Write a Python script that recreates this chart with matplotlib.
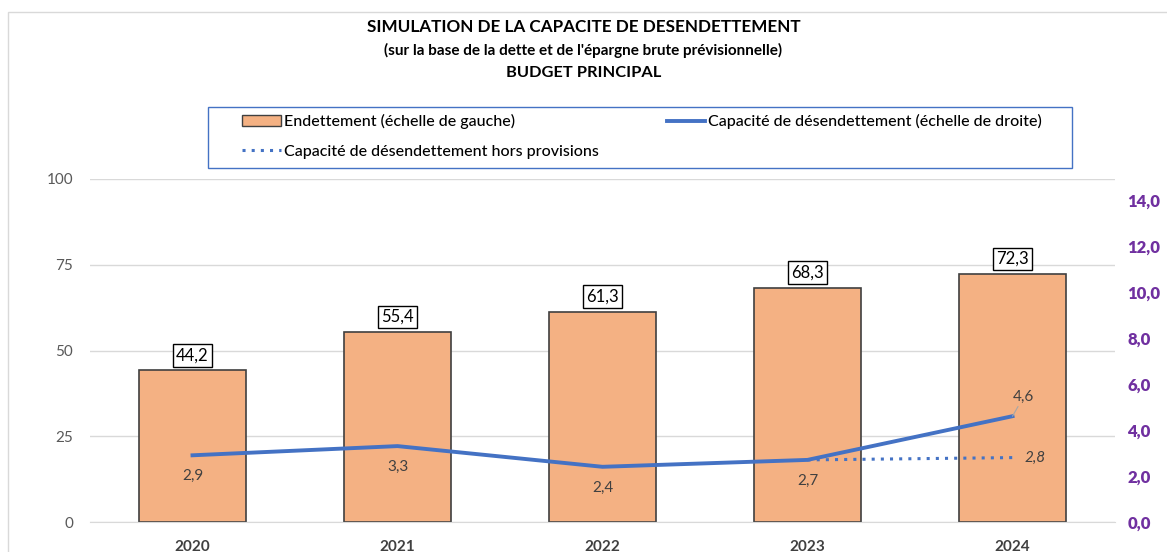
import matplotlib

matplotlib.use("Agg")

import matplotlib.pyplot as plt
from matplotlib.patches import Rectangle, Patch
from matplotlib.lines import Line2D

plt.rcParams["font.family"] = ["Lato", "DejaVu Sans"]

years = ["2020", "2021", "2022", "2023", "2024"]
endettement = [44.2, 55.4, 61.3, 68.3, 72.3]
capacite = [2.9, 3.3, 2.4, 2.7, 4.6]
hors_prov_years = ["2023", "2024"]
hors_prov = [2.7, 2.8]

W, H = 1167, 552
fig = plt.figure(figsize=(W / 100, H / 100), dpi=100)

# chart-area border (cropped Excel chart)
fig.patches.append(Rectangle((8 / W, -0.1), 1.2, 1 - 12 / H + 0.1, transform=fig.transFigure,
                             fill=False, edgecolor="#d9d9d9", linewidth=1))

ax = fig.add_axes([90 / W, 1 - 522 / H, (1115 - 90) / W, (522 - 179) / H])
ax2 = ax.twinx()

x = list(range(len(years)))
bars = ax.bar(x, endettement, width=0.52, color="#F4B183", edgecolor="#404040", linewidth=1.2, zorder=2)
ax.set_ylim(0, 100)
ax.set_xlim(-0.5, len(years) - 0.5)
ax.set_yticks([0, 25, 50, 75, 100])
ax.set_xticks(x)
ax.set_xticklabels(years, fontsize=11, fontweight="bold", color="#404040")
ax.tick_params(axis="y", length=0, labelsize=11, labelcolor="#595959", pad=12)
ax.tick_params(axis="x", length=0, pad=13)
ax.grid(True, axis="y", color="#d9d9d9", linewidth=1, zorder=0)
ax.set_axisbelow(True)
for s in ax.spines.values():
    s.set_visible(False)
ax.spines["bottom"].set_visible(True)
ax.spines["bottom"].set_color("#d9d9d9")

for xi, v in zip(x, endettement):
    ax.annotate(f"{v:.1f}".replace(".", ","), (xi, v), xytext=(0, 5), textcoords="offset points",
                ha="center", va="bottom", fontsize=12, color="black",
                bbox=dict(boxstyle="square,pad=0.2", fc="white", ec="black", lw=1))

ax2.plot(x, capacite, color="#4472C4", linewidth=2.8, zorder=3)
hx = [years.index(y) for y in hors_prov_years]
ax2.plot(hx, hors_prov, color="#4472C4", linewidth=2.2, linestyle=(0, (1, 2)), zorder=3)
ax2.set_ylim(0, (522 - 179) / 23)
ax2.set_yticks([0, 2, 4, 6, 8, 10, 12, 14])
ax2.set_yticklabels([f"{v:.1f}".replace(".", ",") for v in [0, 2, 4, 6, 8, 10, 12, 14]])
ax2.tick_params(axis="y", length=0, labelsize=12, labelcolor="#7030A0", pad=9)
for lab in ax2.get_yticklabels():
    lab.set_fontweight("heavy")
for s in ax2.spines.values():
    s.set_visible(False)

for xi, v in zip(x[:-1], capacite[:-1]):
    ax2.annotate(f"{v:.1f}".replace(".", ","), (xi, v), xytext=(0, -10), textcoords="offset points",
                 ha="center", va="top", fontsize=11, color="#404040")
ax2.annotate(f"{capacite[-1]:.1f}".replace(".", ","), (x[-1], capacite[-1]), xytext=(8, 9),
             textcoords="offset points", ha="center", va="bottom", fontsize=11, color="#404040",
             arrowprops=dict(arrowstyle="-", color="#a6a6a6", lw=0.8, shrinkA=0, shrinkB=0))
ax2.annotate(f"{hors_prov[-1]:.1f}".replace(".", ","), (hx[-1], hors_prov[-1]), xytext=(9, 0),
             textcoords="offset points", ha="left", va="center", fontsize=11, color="#404040",
             style="italic")

fig.text(0.5, 1 - 27 / H, "SIMULATION DE LA CAPACITE DE DESENDETTEMENT", ha="center", va="center",
         fontsize=12.3, fontweight="bold", color="black")
fig.text(0.5, 1 - 50 / H, "(sur la base de la dette et de l'épargne brute prévisionnelle)", ha="center",
         va="center", fontsize=11, fontweight="bold", color="black")
fig.text(0.5, 1 - 73 / H, "BUDGET PRINCIPAL", ha="center", va="center", fontsize=11.8,
         fontweight="bold", color="black")

# legend box
fig.patches.append(Rectangle((208 / W, 1 - 168 / H), (1072 - 208) / W, (168 - 107) / H,
                             transform=fig.transFigure, fill=False, edgecolor="#4472C4", linewidth=1))
handles = [
    Patch(facecolor="#F4B183", edgecolor="#404040", label="Endettement (échelle de gauche)"),
    Line2D([], [], color="#4472C4", linestyle=(0, (1, 2)), lw=2.2, label="Capacité de désendettement hors provisions"),
    Line2D([], [], color="#4472C4", lw=2.8, label="Capacité de désendettement (échelle de droite)"),
]
fig.legend(handles=handles, ncol=2, loc="upper left", bbox_to_anchor=(228 / W, 1 - 100 / H),
           frameon=False, handlelength=2.4, handletextpad=0.2, columnspacing=4.25,
           labelspacing=0.95, prop={"size": 11.5, "weight": "medium"})

fig.savefig("out.png", dpi=100)
